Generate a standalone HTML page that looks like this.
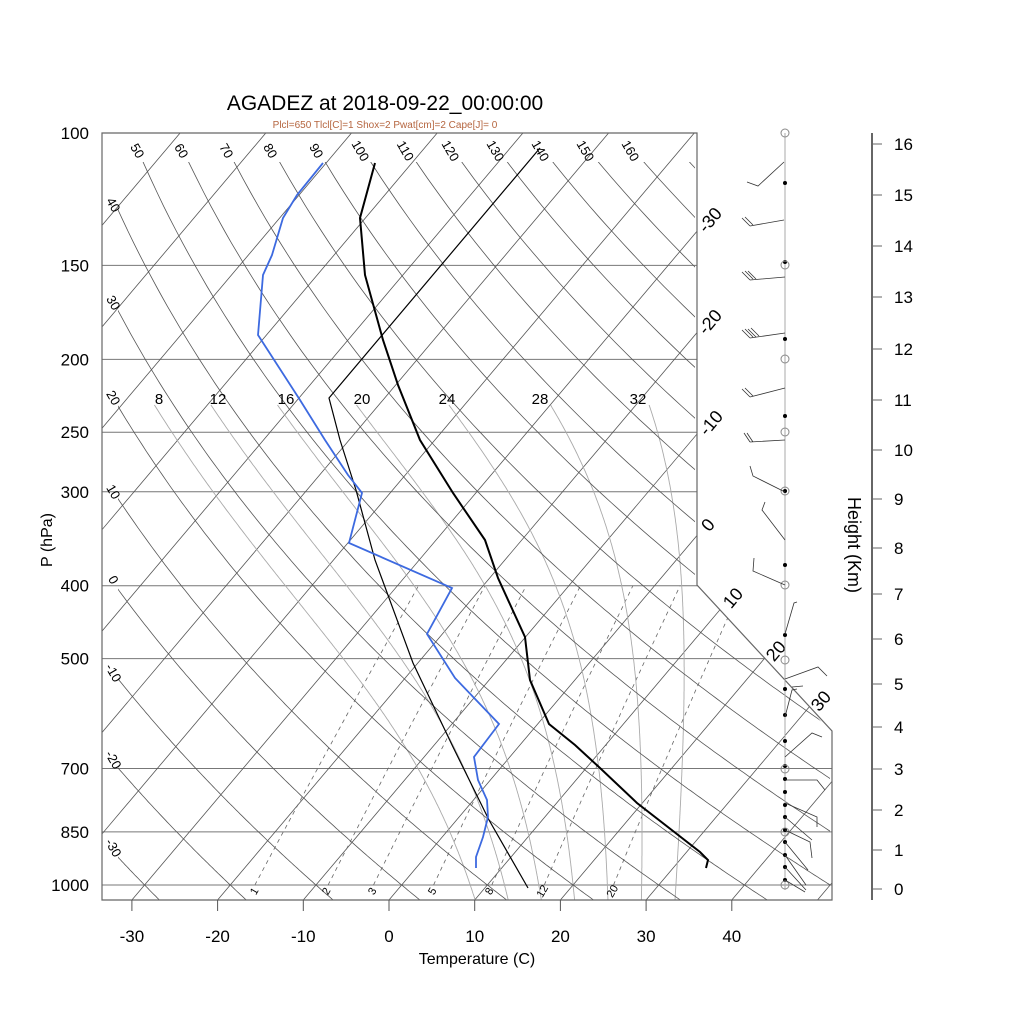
<!DOCTYPE html>
<html><head><meta charset="utf-8">
<style>
html,body{margin:0;padding:0;background:#fff;}
svg{display:block;font-family:"Liberation Sans",Arial,sans-serif;}
</style></head>
<body>
<svg id="s" width="1024" height="1024" viewBox="0 0 1024 1024" xmlns="http://www.w3.org/2000/svg">
<defs>
<clipPath id="cp"><polygon points="102,133 697,133 697,585 832,731 832,900 102,900"/></clipPath>
<clipPath id="cpa"><polygon points="118,162 695,162 695,585 830,731 830,900 118,900"/></clipPath>
</defs>
<g id="grid"></g>
<text x="385" y="110" font-size="21" text-anchor="middle">AGADEZ at 2018-09-22_00:00:00</text>
<text x="385" y="128" font-size="10" text-anchor="middle" fill="#b5653f">Plcl=650 Tlcl[C]=1 Shox=2 Pwat[cm]=2 Cape[J]= 0</text>
<text x="477" y="964" font-size="16" text-anchor="middle">Temperature (C)</text>
<text transform="translate(52,540) rotate(-90)" font-size="16" text-anchor="middle">P (hPa)</text>
<text transform="translate(848,545) rotate(90)" font-size="18" text-anchor="middle">Height (Km)</text>
</svg>
<script>
(function(){
var g=document.getElementById('grid');var h='';
function yOf(p){return 885-326.6*Math.log(1000/p);}
function xOf(T,p){return 389+8.57*T+0.845*(900-yOf(p));}
function pl(pts,st){return '<polyline fill="none" points="'+pts.map(function(a){return a[0].toFixed(1)+','+a[1].toFixed(1)}).join(' ')+'" '+st+'/>';}
var isob=[100,150,200,250,300,400,500,700,850,1000];
h+='<g clip-path="url(#cp)">';
isob.forEach(function(p){var y=yOf(p);h+='<line x1="102" x2="840" y1="'+y+'" y2="'+y+'" stroke="#777" stroke-width="1"/>';});
for(var T=-160;T<=50;T+=10){h+=pl([[xOf(T,1060),yOf(1060)],[xOf(T,95),yOf(95)]],'stroke="#555" stroke-width="0.8"');}
[1,2,3,5,8,12,20].forEach(function(w){var pts=[];for(var p=1000;p>=400;p-=10){var e=w*p/(622+w);var l=Math.log(e/6.112);var td=243.5*l/(17.67-l);pts.push([xOf(td,p),yOf(p)]);}h+=pl(pts,'stroke="#666" stroke-width="0.8" stroke-dasharray="4,4"');});
function es(c){return 6.112*Math.exp(17.67*c/(c+243.5));}
function dTdp(T,p){var e=es(T-273.15);var rs=0.622*e/(p-e);var Rd=287.04,cp=1005.7,Lv=2.501e6;return ((Rd*T+Lv*rs)/(cp+Lv*Lv*rs*0.622/(Rd*T*T)))/p;}
[8,12,16,20,24,28,32].forEach(function(tw){var pts=[];var T=tw+273.15,p=1000;var up=[];
 while(p>230){up.push([xOf(T-273.15,p),yOf(p)]);var d=dTdp(T,p);T-=d*2;p-=2;}
 up.push([xOf(T-273.15,p),yOf(p)]);
 var T2=tw+273.15,p2=1000,dn=[];while(p2<1060){var d2=dTdp(T2,p2);T2+=d2*2;p2+=2;dn.push([xOf(T2-273.15,p2),yOf(p2)]);}
 pts=up.reverse().concat(dn);h+=pl(pts,'stroke="#aaa" stroke-width="0.9"');});
h+='</g>';
h+='<g clip-path="url(#cpa)">';
for(var th=-40;th<=260;th+=10){var pts=[];for(var p=1060;p>=95;p-=5){var T=(th+273.15)*Math.pow(p/1000,0.2857)-273.15;pts.push([xOf(T,p),yOf(p)]);}h+=pl(pts,'stroke="#555" stroke-width="0.8"');}
h+='</g>';
h+='<polygon points="102,133 697,133 697,585 832,731 832,900 102,900" fill="none" stroke="#666" stroke-width="1.2"/>';
for(var t=-30;t<=40;t+=10){var x=389+8.57*t;h+='<line x1="'+x+'" x2="'+x+'" y1="900" y2="911" stroke="#555"/>';h+='<text x="'+x+'" y="942" font-size="17" text-anchor="middle">'+t+'</text>';}
isob.forEach(function(p){h+='<text x="89" y="'+(yOf(p)+6)+'" font-size="17" text-anchor="end">'+p+'</text>';});
var top=[50,60,70,80,90,100,110,120,130,140,150,160],tx=[137,181,226,270,316,360,405,450,495,540,585,630];
top.forEach(function(v,i){h+='<text transform="translate('+tx[i]+',151) rotate(60)" font-size="13" text-anchor="middle" dy="4">'+v+'</text>';});
var lv=[40,30,20,10,0,-10,-20,-30],ly=[205,303,398,492,580,673,760,848];
lv.forEach(function(v,i){h+='<text transform="translate(113,'+ly[i]+') rotate(60)" font-size="13" text-anchor="middle" dy="4">'+v+'</text>';});
var il=[[-30,710,220],[-20,710,322],[-10,711,423],[0,708,525],[10,733,598],[20,776,651],[30,821,701]];
il.forEach(function(a){h+='<text transform="translate('+a[1]+','+a[2]+') rotate(-50)" font-size="18" text-anchor="middle" dy="6">'+a[0]+'</text>';});
[[8,159],[12,218],[16,286],[20,362],[24,447],[28,540],[32,638]].forEach(function(a){h+='<text x="'+a[1]+'" y="404" font-size="15" text-anchor="middle">'+a[0]+'</text>';});
[[1,254],[2,326],[3,372],[5,432],[8,489],[12,542],[20,612]].forEach(function(a){h+='<text transform="translate('+a[1]+',891) rotate(-60)" font-size="11" text-anchor="middle" dy="4">'+a[0]+'</text>';});
h+=pl([[528,888],[489,820],[453,747],[413,663],[375,560],[356,490],[340,440],[329,398],[540,148]],'stroke="#000" stroke-width="1.2"');
h+=pl([[375,163],[360,218],[365,275],[383,340],[398,385],[420,440],[453,493],[485,540],[498,578],[525,637],[530,680],[549,724],[575,745],[600,768],[637,803],[700,852],[708,860],[706,868]],'stroke="#000" stroke-width="2"');
h+=pl([[323,163],[297,195],[283,218],[272,255],[263,275],[258,335],[300,400],[325,440],[348,475],[362,493],[349,543],[452,588],[427,634],[455,678],[499,724],[474,757],[478,780],[487,800],[488,817],[483,837],[476,857],[476,868]],'stroke="#3d6ae0" stroke-width="1.8"');
h+='<line x1="785" x2="785" y1="133" y2="890" stroke="#aaa" stroke-width="1"/>';
[183,262,339,416,491,565,635,689,715,741,766,779,792,805,817,830,842,855,867,880].forEach(function(y){h+='<circle cx="785" cy="'+y+'" r="2" fill="#000"/>';});
[133,265,359,432,491,585,660,769,832,885].forEach(function(y){h+='<circle cx="785" cy="'+y+'" r="4" fill="none" stroke="#888"/>';});
var b='';
b+='M784,162L758,186L747,182 ';
b+='M784,220L750,226M750,226L742,218M753,225L745,217 ';
b+='M785,277L750,280M750,280L742,272M753,279L745,271M756,279L748,271 ';
b+='M785,333L750,338M750,338L742,330M753,337L745,329M756,337L748,329M759,336L751,328 ';
b+='M785,388L750,397M750,397L742,389M753,396L745,388 ';
b+='M785,440L750,442M750,442L744,433M753,442L747,433 ';
b+='M785,492L753,476L750,466 ';
b+='M785,540L762,510L765,502 ';
b+='M785,585L753,571L754,558 ';
b+='M785,634L794,603L797,602 ';
b+='M785,679L818,667L827,676 ';
b+='M792,687L803,686 ';
b+='M785,717L792,690L797,689 ';
b+='M785,757L812,733L822,737 ';
b+='M785,780L817,780L825,790 ';
b+='M785,803L817,817L817,827 ';
b+='M785,830L810,842L812,858 M785,842L808,870 M785,855L806,885 M785,867L806,890 M785,880L805,892 M785,817L812,840 ';
h+='<path d="'+b+'" fill="none" stroke="#333" stroke-width="0.8"/>';
h+='<line x1="872" x2="872" y1="133" y2="900" stroke="#000" stroke-width="1.2"/>';
var hy=[889,850,810,769,727,684,639,594,548,499,450,400,349,297,246,195,144];
hy.forEach(function(y,i){h+='<line x1="872" x2="882" y1="'+y+'" y2="'+y+'" stroke="#666"/>';h+='<text x="894" y="'+(y+6)+'" font-size="17">'+i+'</text>';});
g.innerHTML=h;
})();
</script>
</body></html>
